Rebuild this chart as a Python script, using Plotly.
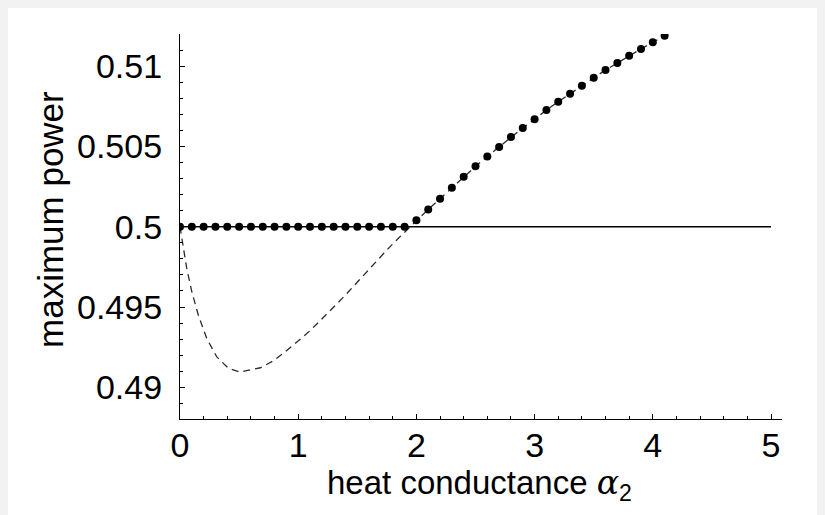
import plotly.graph_objects as go

# ---- data ----
alpha_dash = [0.0, 0.03, 0.057, 0.10, 0.155, 0.226, 0.31, 0.41, 0.51, 0.68, 0.79, 0.87,
              0.96, 1.04, 1.11, 1.18, 1.26, 1.33, 1.40, 1.58, 1.75, 1.85, 1.945, 2.0,
              2.1, 2.2, 2.3, 2.4, 2.5, 2.6, 2.7, 2.8, 2.9, 3.0, 3.1, 3.2, 3.3, 3.4,
              3.5, 3.6, 3.7, 3.8, 3.9, 4.0, 4.1, 4.15]
power_dash = [0.5000, 0.49866, 0.49741, 0.49595, 0.49450, 0.49305, 0.49191, 0.49118,
              0.49095, 0.49122, 0.49165, 0.49210, 0.49262, 0.49313, 0.49360, 0.49410,
              0.49466, 0.49522, 0.49575, 0.49720, 0.49855, 0.49930, 0.50000, 0.50040,
              0.50108, 0.50174, 0.50243, 0.50311, 0.50376, 0.50438, 0.50496, 0.50559,
              0.50615, 0.50669, 0.50727, 0.50778, 0.50828, 0.50878, 0.50928, 0.50976,
              0.51019, 0.51065, 0.51107, 0.51148, 0.51189, 0.51210]

alpha_dots = [0.0, 0.1, 0.2, 0.3, 0.4, 0.5, 0.6, 0.7, 0.8, 0.9, 1.0, 1.1, 1.2, 1.3, 1.4,
              1.5, 1.6, 1.7, 1.8, 1.9, 2.0, 2.1, 2.2, 2.3, 2.4, 2.5, 2.6, 2.7, 2.8, 2.9,
              3.0, 3.1, 3.2, 3.3, 3.4, 3.5, 3.6, 3.7, 3.8, 3.9, 4.0, 4.1]
power_dots = [0.5] * 20 + [0.50040, 0.50108, 0.50174, 0.50243, 0.50311, 0.50376,
                           0.50438, 0.50496, 0.50559, 0.50615, 0.50669, 0.50727,
                           0.50778, 0.50828, 0.50878, 0.50928, 0.50976, 0.51019,
                           0.51065, 0.51107, 0.51148, 0.51189]

alpha_flat = [0.0, 5.0]
power_flat = [0.5, 0.5]

x_ticks = [0, 1, 2, 3, 4, 5]
y_ticks = [0.49, 0.495, 0.5, 0.505, 0.51]
y_tick_labels = ["0.49", "0.495", "0.5", "0.505", "0.51"]

x_title = "heat conductance <span style='font-family:\"DejaVu Serif\"'><i>α</i></span><sub>2</sub>"
y_title = "maximum power"

FONT = "Liberation Sans, Arial, Helvetica, sans-serif"

fig = go.Figure()
fig.add_trace(go.Scatter(x=alpha_flat, y=power_flat, mode="lines",
                         line=dict(color="black", width=1.4), showlegend=False))
fig.add_trace(go.Scatter(x=alpha_dash, y=power_dash, mode="lines",
                         line=dict(color="#2a2a2a", width=1.3, dash="7px,5px"),
                         showlegend=False))
fig.add_trace(go.Scatter(x=alpha_dots, y=power_dots, mode="markers",
                         marker=dict(color="black", size=8), showlegend=False))

fig.add_annotation(text=x_title, xref="paper", yref="paper", x=0.498, y=-0.108,
                   xanchor="center", yanchor="top", showarrow=False,
                   font=dict(size=33, family=FONT, color="black"))
fig.add_annotation(text=y_title, xref="paper", yref="paper", x=-0.2143, y=0.5195,
                   xanchor="center", yanchor="middle", textangle=-90, showarrow=False,
                   font=dict(size=35, family=FONT, color="black"))

fig.update_layout(
    width=813, height=507,
    margin=dict(l=172, r=39, t=26, b=96, autoexpand=False),
    paper_bgcolor="white",
    plot_bgcolor="white",
    font=dict(family=FONT, size=34, color="black"),
    showlegend=False,
)
fig.update_xaxes(
    range=[0, 5.093], showgrid=False, zeroline=False, automargin=False,
    showline=True, linecolor="black", linewidth=1.2, mirror=False,
    ticks="inside", ticklen=5, tickwidth=1, tickcolor="black",
    tickvals=x_ticks, ticklabelstandoff=-4,
    minor=dict(ticks="inside", dtick=0.2, ticklen=3, tickcolor="black", showgrid=False),
)
fig.update_yaxes(
    range=[0.48803, 0.5120], showgrid=False, zeroline=False, automargin=False,
    showline=True, linecolor="black", linewidth=1.2, mirror=False,
    ticks="inside", ticklen=5, tickwidth=1, tickcolor="black",
    tickvals=y_ticks, ticktext=y_tick_labels, ticklabelstandoff=10,
    minor=dict(ticks="inside", dtick=0.001, ticklen=3, tickcolor="black", showgrid=False),
)

fig.write_html("out.html", post_script="document.body.style.background='#f2f2f2';")
